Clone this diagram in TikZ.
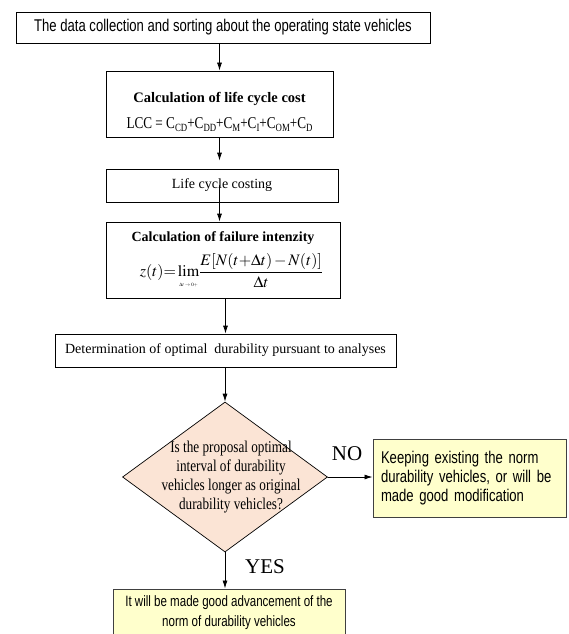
\documentclass[tikz,border=0pt]{standalone}
\usepackage{mathptmx}
\usepackage[no-math]{fontspec}
\setmainfont{Liberation Serif}
\newfontfamily\narrowsans[FakeStretch=0.77]{Liberation Sans}
\newfontfamily\narrowserif[FakeStretch=0.8]{Liberation Serif}
\usetikzlibrary{arrows.meta,shapes.geometric}
\definecolor{peach}{RGB}{251,228,213}
\definecolor{paleyellow}{RGB}{255,255,204}
\newcommand{\lccsub}[1]{\raisebox{-3pt}{\fontsize{11}{11}\selectfont#1}}

\begin{document}
\begin{tikzpicture}[x=1pt,y=-1pt,line cap=round,
  block/.style={draw,line width=.8pt,inner sep=0pt,font=\fontsize{14}{17}\selectfont},
  decision/.style={diamond,draw,line width=.7pt,fill=peach,inner sep=0pt,
    minimum width=205pt,minimum height=150pt},
  remark/.style={draw=black!75,line width=1pt,fill=paleyellow,inner sep=0pt},
  flow/.style={line width=.8pt,-{Latex[length=8pt,width=5pt]}}]
  \clip (0,0) rectangle (568,634);

  \node[block,minimum width=414pt,minimum height=31pt,
    font=\narrowsans\fontsize{17}{20}\selectfont] (data) at (223,27.5)
    {The data collection and sorting about the operating state vehicles};
  \node[block,minimum width=227pt,minimum height=66pt,align=center] (lcc) at (219.5,104)
    {\rule{0pt}{26pt}\fontsize{14.5}{17}\selectfont\textbf{Calculation of life cycle cost}\\[9pt]
     \narrowserif\fontsize{16.5}{18}\selectfont LCC = C\lccsub{CD}+C\lccsub{DD}+C\lccsub{M}+C\lccsub{I}+C\lccsub{OM}+C\lccsub{D}};
  \node[block,minimum width=232pt,minimum height=33pt] (costing) at (222,185.5)
    {Life cycle costing};
  \node[block,minimum width=234pt,minimum height=76pt,align=center] (failure) at (223,260)
    {\textbf{Calculation of failure intenzity}\\[8pt]
     \fontsize{16}{18}\selectfont\hspace*{17pt}%
     $\displaystyle z(t){=}\lim_{\mbox{\fontsize{5}{5}\selectfont$\Delta t\to0+$}}\!
      \frac{E[N(t{+}\Delta t)\,{-}\,N(t)]}{\Delta t}$};
  \node[block,minimum width=341pt,minimum height=33pt] (optimum) at (225.5,350.5)
    {Determination of optimal~ durability pursuant to analyses};

  \node[decision] (check) at (225,477) {};
  \node[align=center,font=\narrowserif\fontsize{16.5}{19}\selectfont] (question)
    at ([xshift=6pt]check.center)
    {Is the proposal optimal\\interval of durability\\vehicles longer as original\\durability vehicles?};

  \node[remark,minimum width=193pt,minimum height=78pt,text width=177pt,align=left,
    font=\narrowsans\fontsize{17}{19}\selectfont] (keep) at (469.5,478)
    {Keeping existing the norm\\durability vehicles, or will be\\made good modification};
  \node[remark,minimum width=232pt,minimum height=48pt,align=center,
    font=\narrowsans\fontsize{15}{20}\selectfont] (advance) at (229,613)
    {It will be made good advancement of the\\norm of durability vehicles};

  \node[font=\fontsize{21}{24}\selectfont] (no) at (347,454) {NO};
  \node[font=\fontsize{21}{24}\selectfont] (yes) at (265,567) {YES};

  \draw[flow] (data.south -| lcc.north) -- (lcc.north);
  \draw[flow,shorten >=8pt] (lcc.south) -- (costing.north -| lcc.south);
  \draw[flow] (costing.center -| lcc.south) -- (failure.north -| lcc.south);
  \draw[flow] (failure.south -| optimum.north) -- (optimum.north);
  \draw[flow] (optimum.south -| check.north) -- (check.north);
  \draw[flow] (check.east) -- (check.east -| keep.west);
  \draw[flow] (check.south) -- (check.south |- advance.north);
\end{tikzpicture}
\end{document}
